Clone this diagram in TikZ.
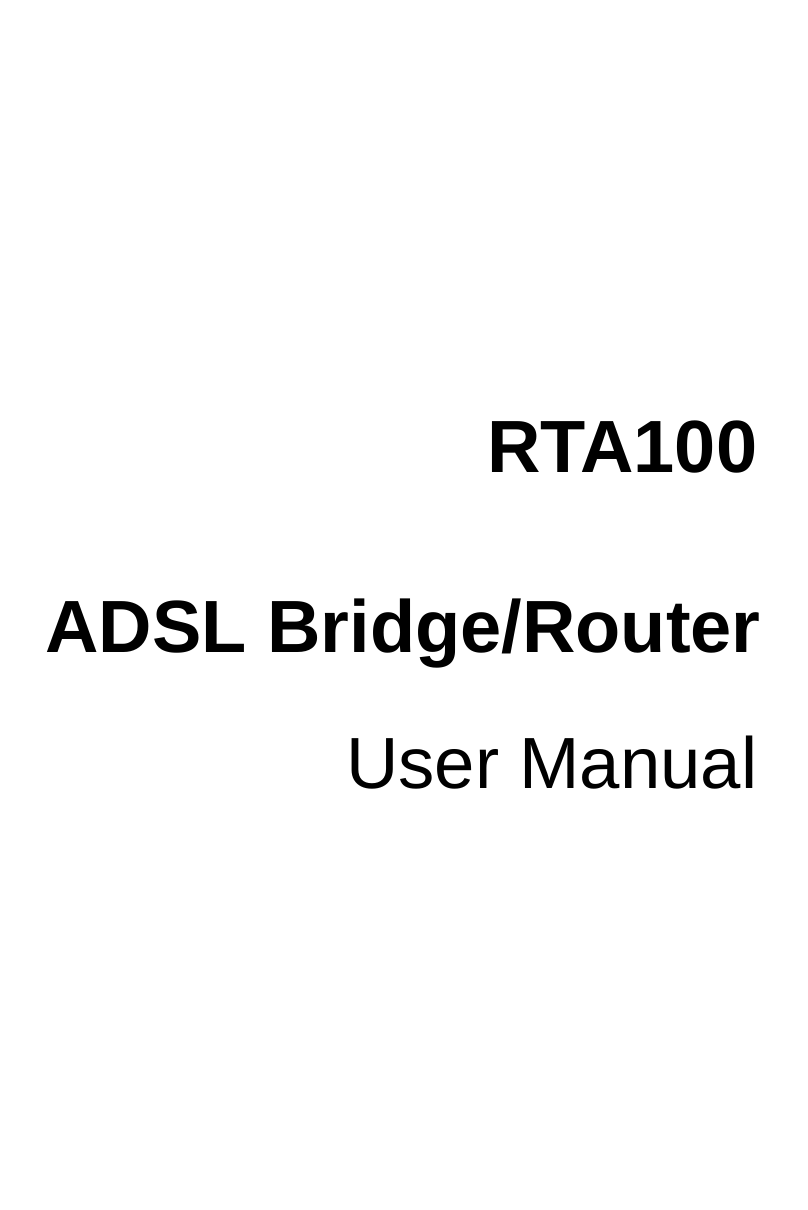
\documentclass[tikz,border=0pt]{standalone}
\usepackage{fontspec}
\setmainfont{Liberation Sans}
\begin{document}
\begin{tikzpicture}[x=1pt,y=1pt]
        \tikzset{titletext/.style={anchor=base east,inner sep=0pt,font=\fontsize{74}{80}\selectfont\bfseries,text=black},
                 subtext/.style={anchor=base east,inner sep=0pt,font=\fontsize{72.5}{80}\selectfont,text=black}}
        \useasboundingbox (0,0) rectangle (808,1210);
        \node[titletext] (model) at (757.5,737.5) {RTA100};
        \node[titletext] (product) at (761,557) {ADSL Bridge/Router};
        \node[subtext] (manual) at (757.5,421.5) {User Manual};
    \end{tikzpicture}
\end{document}
